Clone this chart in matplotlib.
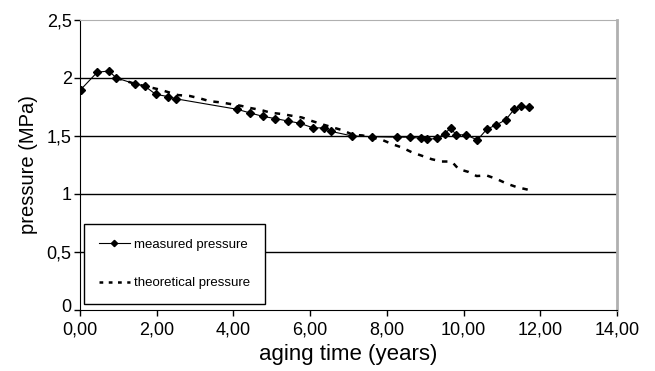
import matplotlib
matplotlib.use("Agg")
import matplotlib.pyplot as plt
from matplotlib.lines import Line2D
from matplotlib.transforms import ScaledTranslation

plt.rcParams['font.family'] = ['Liberation Sans', 'DejaVu Sans']

meas_x = [0.02, 0.45, 0.75, 0.95, 1.43, 1.69, 1.97, 2.29, 2.51, 4.10, 4.42, 4.76,
          5.09, 5.41, 5.73, 6.08, 6.35, 6.54, 7.10, 7.62, 8.27, 8.60, 8.90, 9.05,
          9.31, 9.51, 9.67, 9.80, 10.06, 10.36, 10.61, 10.85, 11.10, 11.32, 11.49, 11.71]
meas_y = [1.90, 2.05, 2.06, 2.00, 1.95, 1.93, 1.86, 1.84, 1.82, 1.73, 1.70, 1.67,
          1.65, 1.63, 1.61, 1.57, 1.57, 1.54, 1.50, 1.494, 1.49, 1.49, 1.48, 1.47,
          1.48, 1.52, 1.57, 1.51, 1.51, 1.466, 1.56, 1.595, 1.64, 1.73, 1.76, 1.75]

theo_x = [0.95, 1.43, 2.08, 2.55, 2.86, 3.12, 3.38, 3.66, 3.92, 4.20, 4.46, 4.72,
          4.98, 5.25, 5.51, 5.78, 6.04, 6.32, 6.58, 6.84, 7.12, 7.36, 7.88, 8.14,
          8.40, 8.65, 8.91, 9.17, 9.43, 9.69, 9.87, 10.13, 10.34, 10.60, 10.86,
          11.12, 11.38, 11.64, 11.75]
theo_y = [2.00, 1.95, 1.90, 1.853, 1.845, 1.825, 1.80, 1.79, 1.776, 1.76, 1.74, 1.724,
          1.70, 1.69, 1.675, 1.66, 1.63, 1.60, 1.575, 1.55, 1.51, 1.505, 1.466, 1.43,
          1.40, 1.36, 1.33, 1.30, 1.28, 1.28, 1.215, 1.19, 1.155, 1.16, 1.13,
          1.09, 1.06, 1.04, 1.03]

xticks = [0, 2, 4, 6, 8, 10, 12, 14]
xtick_labels = ["0,00", "2,00", "4,00", "6,00", "8,00", "10,00", "12,00", "14,00"]
yticks = [0, 0.5, 1, 1.5, 2, 2.5]
ytick_labels = ["0", "0,5", "1", "1,5", "2", "2,5"]

fig = plt.figure(figsize=(6.55, 3.71), dpi=100)
ax = fig.add_axes([80/655, 61/371, 537/655, 290/371])

for yv in yticks[1:-1]:
    ax.axhline(yv, color='black', lw=1.0, zorder=1)

ax.plot(theo_x, theo_y, color='black', lw=1.8, dashes=(2.2, 2.8), zorder=2)
ax.plot(meas_x, meas_y, color='black', lw=0.8, marker='D', markersize=3.7, zorder=3)

ax.set_xlim(0, 14)
ax.set_ylim(0, 2.5)
ax.set_xticks(xticks)
ax.set_xticklabels(xtick_labels, fontsize=13, color='#222222')
ax.set_yticks(yticks)
ax.set_yticklabels(ytick_labels, fontsize=13, color='#222222')
ax.tick_params(axis='both', direction='out', length=4, width=1, colors='black', pad=2)
ax.tick_params(axis='x', pad=4)

# nudge the "0" y label up slightly, as in the reference
zero_lbl = ax.get_yticklabels()[0]
zero_lbl.set_transform(zero_lbl.get_transform() + ScaledTranslation(0, 4/100, fig.dpi_scale_trans))

ax.spines['left'].set_color('black')
ax.spines['bottom'].set_color('black')
ax.spines['top'].set_color('#b0b0b0')
ax.spines['right'].set_color('#b0b0b0')
ax.spines['right'].set_linewidth(2)

ax.set_xlabel("aging time (years)", fontsize=16, labelpad=4)
ax.set_ylabel("pressure (MPa)", fontsize=14.5, labelpad=6)

handles = [Line2D([], [], color='black', lw=0.8, marker='D', markersize=3.2),
           Line2D([], [], color='black', lw=1.8, dashes=(1.5, 2.2))]
leg = ax.legend(handles, ["measured pressure", "theoretical pressure"],
                loc='lower left', bbox_to_anchor=(4/537, 6/290),
                fontsize=9.5, frameon=True, fancybox=False, framealpha=1,
                edgecolor='black', labelspacing=2.0, handlelength=2.4,
                handletextpad=0.3, borderpad=1.1, borderaxespad=0)
leg.get_frame().set_linewidth(1.0)

fig.savefig("out.png", dpi=100)
